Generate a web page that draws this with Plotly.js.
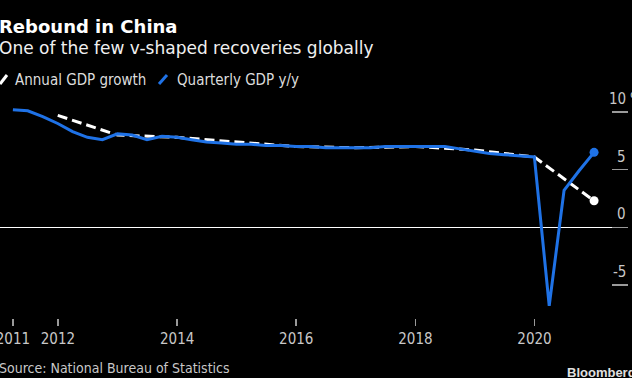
<!DOCTYPE html>
<html>
<head>
<meta charset="utf-8">
<script src="https://cdn.plot.ly/plotly-3.0.1.min.js"></script>
<style>
  html, body { margin: 0; padding: 0; background: #000; }
  #chart { width: 632px; height: 378px; }
</style>
</head>
<body>
<div id="chart"></div>
<script>
// Quarterly GDP y/y (%) — quarter end dates
const quarterDates = [
  '2011-03-31','2011-06-30','2011-09-30','2011-12-31',
  '2012-03-31','2012-06-30','2012-09-30','2012-12-31',
  '2013-03-31','2013-06-30','2013-09-30','2013-12-31',
  '2014-03-31','2014-06-30','2014-09-30','2014-12-31',
  '2015-03-31','2015-06-30','2015-09-30','2015-12-31',
  '2016-03-31','2016-06-30','2016-09-30','2016-12-31',
  '2017-03-31','2017-06-30','2017-09-30','2017-12-31',
  '2018-03-31','2018-06-30','2018-09-30','2018-12-31',
  '2019-03-31','2019-06-30','2019-09-30','2019-12-31',
  '2020-03-31','2020-06-30','2020-09-30','2020-12-31'
];
const quarterlyGDP = [
  10.2, 10.1, 9.6, 9.0,
  8.3, 7.8, 7.6, 8.1,
  8.0, 7.6, 7.9, 7.8,
  7.6, 7.4, 7.3, 7.2,
  7.2, 7.1, 7.1, 7.0,
  7.0, 6.9, 6.9, 6.9,
  6.9, 7.0, 7.0, 7.0,
  7.0, 7.0, 6.8, 6.6,
  6.4, 6.3, 6.2, 6.1,
  -6.8, 3.2, 4.9, 6.5
];

// Annual GDP growth (%) — plotted at year end
const annualDates = ['2011-12-31','2012-12-31','2013-12-31','2014-12-31','2015-12-31',
                     '2016-12-31','2017-12-31','2018-12-31','2019-12-31','2020-12-31'];
const annualGDP = [9.7, 8.0, 7.8, 7.4, 7.0, 6.9, 7.0, 6.7, 6.1, 2.3];

// Axis ticks
const xTickVals = ['2011-03-31','2012-01-01','2014-01-01','2016-01-01','2018-01-01','2020-01-01'];
const xTickText = ['2011','2012','2014','2016','2018','2020'];
const yTickVals = [-5, 0, 5, 10];
const yTickText = ['-5', '0', '5', '10'];

const blue = '#1f72e6';
const labelFont = {family: 'DejaVu Sans Condensed, DejaVu Sans', size: 15, color: '#c8c8c8'};

const traces = [
  {
    x: annualDates, y: annualGDP, type: 'scatter', mode: 'lines',
    line: {color: '#ffffff', width: 3, dash: '10px,5px'},
    name: 'Annual GDP growth', hoverinfo: 'skip'
  },
  {
    x: [annualDates[annualDates.length - 1]], y: [annualGDP[annualGDP.length - 1]],
    type: 'scatter', mode: 'markers',
    marker: {color: '#ffffff', size: 9}, showlegend: false, hoverinfo: 'skip'
  },
  {
    x: quarterDates, y: quarterlyGDP, type: 'scatter', mode: 'lines',
    line: {color: blue, width: 3},
    name: 'Quarterly GDP y/y', hoverinfo: 'skip'
  },
  {
    x: [quarterDates[quarterDates.length - 1]], y: [quarterlyGDP[quarterlyGDP.length - 1]],
    type: 'scatter', mode: 'markers',
    marker: {color: blue, size: 9}, showlegend: false, hoverinfo: 'skip'
  }
];

// paper coordinate helpers (plot area: x 0..628, y 95..318)
const PX0 = 0, PX1 = 628, PY0 = 95, PY1 = 318;
const px = v => (v - PX0) / (PX1 - PX0);
const py = v => (PY1 - v) / (PY1 - PY0);

const annotations = [
  {text: '<b>Rebound in China</b>', x: px(-3), y: py(26), xanchor: 'left', yanchor: 'middle',
   font: {family: 'DejaVu Sans', size: 18, color: '#ffffff'}},
  {text: 'One of the few v-shaped recoveries globally', x: px(-3), y: py(48), xanchor: 'left', yanchor: 'middle',
   font: {family: 'DejaVu Sans', size: 17, color: '#f0f0f0'}},
  {text: 'Annual GDP growth', x: px(13), y: py(80), xanchor: 'left', yanchor: 'middle',
   font: {family: 'DejaVu Sans Condensed, DejaVu Sans', size: 15, color: '#dcdcdc'}},
  {text: 'Quarterly GDP y/y', x: px(175), y: py(80), xanchor: 'left', yanchor: 'middle',
   font: {family: 'DejaVu Sans Condensed, DejaVu Sans', size: 15, color: '#dcdcdc'}},
  {text: 'Source: National Bureau of Statistics', x: px(-3), y: py(368), xanchor: 'left', yanchor: 'middle',
   font: {family: 'DejaVu Sans Condensed, DejaVu Sans', size: 14, color: '#c8c8c8'}},
  {text: '<b>Bloomberg</b>', x: px(565), y: py(372), xanchor: 'left', yanchor: 'middle',
   font: {family: 'Liberation Sans', size: 13, color: '#e0e0e0'}}
].map(a => Object.assign({xref: 'paper', yref: 'paper', showarrow: false}, a));

// y tick labels: numbers right-aligned at the axis, % hanging outside
yTickVals.forEach((v, i) => {
  annotations.push({
    text: yTickText[i], xref: 'paper', yref: 'y', x: 1, y: v, yshift: 2,
    xanchor: 'right', yanchor: 'bottom', showarrow: false, font: labelFont
  });
});
annotations.push({
  text: '%', xref: 'paper', yref: 'y', x: 1, y: yTickVals[yTickVals.length - 1], yshift: 2,
  xanchor: 'left', yanchor: 'bottom', showarrow: false, font: labelFont
});

const shapes = [
  {type: 'line', xref: 'paper', yref: 'paper', x0: px(0), y0: py(84), x1: px(7), y1: py(75),
   line: {color: '#ffffff', width: 3}},
  {type: 'line', xref: 'paper', yref: 'paper', x0: px(159), y0: py(84), x1: px(167), y1: py(75),
   line: {color: blue, width: 3}}
];

const layout = {
  width: 632, height: 378,
  paper_bgcolor: '#000000', plot_bgcolor: '#000000',
  margin: {l: 0, r: 4, t: 95, b: 60, pad: 0},
  showlegend: false,
  xaxis: {
    type: 'date', range: ['2011-01-11', '2021-07-27'],
    tickmode: 'array', tickvals: xTickVals, ticktext: xTickText,
    ticks: 'outside', ticklen: 7, tickwidth: 1.5, tickcolor: '#9a9a9a',
    ticklabeloverflow: 'allow',
    showgrid: false, zeroline: false, showline: false,
    tickfont: labelFont, fixedrange: true
  },
  yaxis: {
    side: 'right', range: [-7.86, 11.47],
    tickmode: 'array', tickvals: yTickVals, ticktext: yTickText,
    ticks: 'inside', ticklen: 16, tickwidth: 1.5, tickcolor: '#9a9a9a',
    showticklabels: false,
    showgrid: false, showline: false,
    zeroline: true, zerolinecolor: '#ffffff', zerolinewidth: 1,
    fixedrange: true
  },
  annotations: annotations,
  shapes: shapes
};

Plotly.newPlot('chart', traces, layout, {displayModeBar: false, staticPlot: true});
</script>
</body>
</html>
